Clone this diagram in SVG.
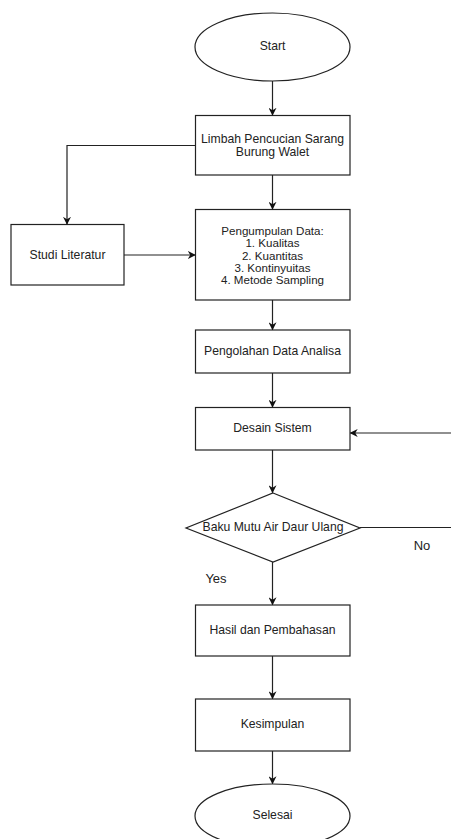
<svg xmlns="http://www.w3.org/2000/svg" width="451" height="839" viewBox="0 0 451 839">
<defs>
<marker id="arr" viewBox="0 0 10 10" refX="9" refY="5" markerWidth="8" markerHeight="8" markerUnits="userSpaceOnUse" orient="auto">
<path d="M0,0 L10,5 L0,10 L3,5 Z" fill="#111"/>
</marker>
<style>
.n{fill:#fff;stroke:#222;stroke-width:1.2}
.t{font-family:"Liberation Sans",Arial,sans-serif;font-size:12.2px;fill:#222;text-anchor:middle;dominant-baseline:central}
.s{font-size:11.6px}
.l{font-family:"Liberation Sans",Arial,sans-serif;font-size:13px;fill:#222;text-anchor:middle;dominant-baseline:central}
.c{fill:none;stroke:#222;stroke-width:1.2;marker-end:url(#arr)}
.c2{fill:none;stroke:#222;stroke-width:1.2}
</style>
</defs>
<rect width="451" height="839" fill="#fff"/>
<g id="start"><ellipse class="n" cx="272.5" cy="47" rx="77.5" ry="34"/><text class="t" x="272.5" y="46">Start</text></g>
<g id="limbah"><rect class="n" x="195.5" y="115.5" width="154.5" height="59.5"/><text class="t" x="272.5" y="139">Limbah Pencucian Sarang</text><text class="t" x="272.5" y="152">Burung Walet</text></g>
<g id="pengumpulan"><rect class="n" x="195.5" y="209.5" width="154.5" height="90.5"/><text class="t s" x="272.5" y="230.2">Pengumpulan Data:</text><text class="t s" x="272.5" y="242.6">1. Kualitas</text><text class="t s" x="272.5" y="255">2. Kuantitas</text><text class="t s" x="272.5" y="267.4">3. Kontinyuitas</text><text class="t s" x="272.5" y="279.8">4. Metode Sampling</text></g>
<g id="studi"><rect class="n" x="11" y="224.5" width="113" height="60.5"/><text class="t" x="67.5" y="254.5">Studi Literatur</text></g>
<g id="pengolahan"><rect class="n" x="195.5" y="330" width="154.5" height="43"/><text class="t" x="272.5" y="351">Pengolahan Data Analisa</text></g>
<g id="desain"><rect class="n" x="195.5" y="407.5" width="154.5" height="42.5"/><text class="t" x="272.5" y="428">Desain Sistem</text></g>
<g id="baku"><polygon class="n" points="273,493 360,528 273,562 186,528"/><text class="t" x="273" y="527">Baku Mutu Air Daur Ulang</text></g>
<g id="hasil"><rect class="n" x="195.5" y="605" width="154.5" height="51"/><text class="t" x="272.5" y="630">Hasil dan Pembahasan</text></g>
<g id="kesimpulan"><rect class="n" x="195.5" y="699" width="154.5" height="52"/><text class="t" x="272.5" y="724">Kesimpulan</text></g>
<g id="selesai"><ellipse class="n" cx="272.5" cy="816" rx="77.5" ry="32"/><text class="t" x="272.5" y="815">Selesai</text></g>
<g id="connectors">
<path class="c" d="M272.5,81 V115"/>
<path class="c" d="M195.5,145.5 H67 V224"/>
<path class="c" d="M272.5,175 V209"/>
<path class="c" d="M124,255 H195"/>
<path class="c" d="M272.5,300 V329.5"/>
<path class="c" d="M272.5,373 V407"/>
<path class="c" d="M451,433 H350.5"/>
<path class="c" d="M272.5,450 V492.5"/>
<path class="c2" d="M360,527.5 H451"/>
<path class="c" d="M272.5,562 V604.5"/>
<path class="c" d="M272.5,656 V698.5"/>
<path class="c" d="M272.5,751 V783.5"/>
</g>
<text class="l" x="422" y="545">No</text>
<text class="l" x="216" y="578">Yes</text>
</svg>
